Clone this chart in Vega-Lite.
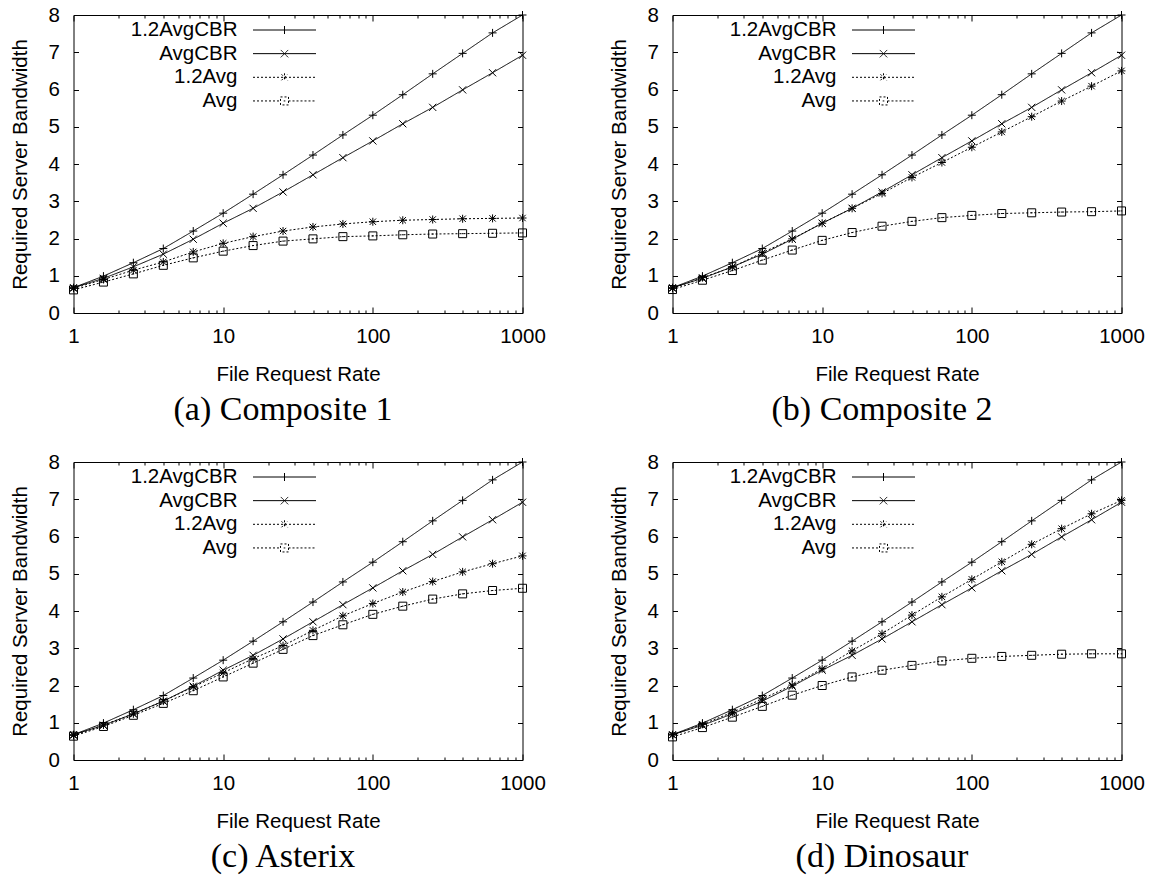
{
  "$schema": "https://vega.github.io/schema/vega-lite/v6.json",
  "padding": {"left": 9.5, "top": 4, "right": 5, "bottom": 2},
  "bounds": "flush",
  "columns": 2,
  "spacing": {"row": 149, "column": 150},
  "background": "white",
  "resolve": {"scale": {"strokeDash": "independent", "shape": "independent"}, "legend": {"strokeDash": "independent", "shape": "independent"}},
  "config": {
    "font": "Liberation Sans",
    "view": {"stroke": "black", "strokeWidth": 1},
    "axis": {
      "domain": false, "grid": false, "labelFont": "Liberation Sans", "labelFontSize": 20.5,
      "labelColor": "black", "titleFont": "Liberation Sans", "titleFontSize": 20.5,
      "titleFontWeight": "normal", "titleColor": "black", "tickColor": "black", "tickWidth": 1,
      "labelFlush": false, "labelOverlap": false
    },
    "legend": {"padding": 0}
  },
  "datasets": {
    "bw": [
      {"p":"a","s":"1.2AvgCBR","x":1,"y":0.68},{"p":"a","s":"1.2AvgCBR","x":1.585,"y":0.99},{"p":"a","s":"1.2AvgCBR","x":2.512,"y":1.35},{"p":"a","s":"1.2AvgCBR","x":3.981,"y":1.73},{"p":"a","s":"1.2AvgCBR","x":6.31,"y":2.2},{"p":"a","s":"1.2AvgCBR","x":10,"y":2.68},{"p":"a","s":"1.2AvgCBR","x":15.85,"y":3.19},{"p":"a","s":"1.2AvgCBR","x":25.12,"y":3.71},{"p":"a","s":"1.2AvgCBR","x":39.81,"y":4.24},{"p":"a","s":"1.2AvgCBR","x":63.1,"y":4.78},{"p":"a","s":"1.2AvgCBR","x":100,"y":5.31},{"p":"a","s":"1.2AvgCBR","x":158.5,"y":5.86},{"p":"a","s":"1.2AvgCBR","x":251.2,"y":6.42},{"p":"a","s":"1.2AvgCBR","x":398.1,"y":6.97},{"p":"a","s":"1.2AvgCBR","x":631,"y":7.52},{"p":"a","s":"1.2AvgCBR","x":1000,"y":8.0},
      {"p":"a","s":"AvgCBR","x":1,"y":0.68},{"p":"a","s":"AvgCBR","x":1.585,"y":0.93},{"p":"a","s":"AvgCBR","x":2.512,"y":1.24},{"p":"a","s":"AvgCBR","x":3.981,"y":1.58},{"p":"a","s":"AvgCBR","x":6.31,"y":1.98},{"p":"a","s":"AvgCBR","x":10,"y":2.41},{"p":"a","s":"AvgCBR","x":15.85,"y":2.81},{"p":"a","s":"AvgCBR","x":25.12,"y":3.25},{"p":"a","s":"AvgCBR","x":39.81,"y":3.71},{"p":"a","s":"AvgCBR","x":63.1,"y":4.17},{"p":"a","s":"AvgCBR","x":100,"y":4.62},{"p":"a","s":"AvgCBR","x":158.5,"y":5.08},{"p":"a","s":"AvgCBR","x":251.2,"y":5.52},{"p":"a","s":"AvgCBR","x":398.1,"y":5.99},{"p":"a","s":"AvgCBR","x":631,"y":6.45},{"p":"a","s":"AvgCBR","x":1000,"y":6.92},
      {"p":"a","s":"1.2Avg","x":1,"y":0.66},{"p":"a","s":"1.2Avg","x":1.585,"y":0.9},{"p":"a","s":"1.2Avg","x":2.512,"y":1.15},{"p":"a","s":"1.2Avg","x":3.981,"y":1.37},{"p":"a","s":"1.2Avg","x":6.31,"y":1.64},{"p":"a","s":"1.2Avg","x":10,"y":1.87},{"p":"a","s":"1.2Avg","x":15.85,"y":2.05},{"p":"a","s":"1.2Avg","x":25.12,"y":2.2},{"p":"a","s":"1.2Avg","x":39.81,"y":2.31},{"p":"a","s":"1.2Avg","x":63.1,"y":2.39},{"p":"a","s":"1.2Avg","x":100,"y":2.45},{"p":"a","s":"1.2Avg","x":158.5,"y":2.49},{"p":"a","s":"1.2Avg","x":251.2,"y":2.51},{"p":"a","s":"1.2Avg","x":398.1,"y":2.53},{"p":"a","s":"1.2Avg","x":631,"y":2.54},{"p":"a","s":"1.2Avg","x":1000,"y":2.55},
      {"p":"a","s":"Avg","x":1,"y":0.62},{"p":"a","s":"Avg","x":1.585,"y":0.83},{"p":"a","s":"Avg","x":2.512,"y":1.05},{"p":"a","s":"Avg","x":3.981,"y":1.28},{"p":"a","s":"Avg","x":6.31,"y":1.48},{"p":"a","s":"Avg","x":10,"y":1.66},{"p":"a","s":"Avg","x":15.85,"y":1.81},{"p":"a","s":"Avg","x":25.12,"y":1.93},{"p":"a","s":"Avg","x":39.81,"y":1.99},{"p":"a","s":"Avg","x":63.1,"y":2.05},{"p":"a","s":"Avg","x":100,"y":2.07},{"p":"a","s":"Avg","x":158.5,"y":2.1},{"p":"a","s":"Avg","x":251.2,"y":2.12},{"p":"a","s":"Avg","x":398.1,"y":2.13},{"p":"a","s":"Avg","x":631,"y":2.14},{"p":"a","s":"Avg","x":1000,"y":2.15},

      {"p":"b","s":"1.2AvgCBR","x":1,"y":0.68},{"p":"b","s":"1.2AvgCBR","x":1.585,"y":0.99},{"p":"b","s":"1.2AvgCBR","x":2.512,"y":1.35},{"p":"b","s":"1.2AvgCBR","x":3.981,"y":1.73},{"p":"b","s":"1.2AvgCBR","x":6.31,"y":2.2},{"p":"b","s":"1.2AvgCBR","x":10,"y":2.68},{"p":"b","s":"1.2AvgCBR","x":15.85,"y":3.19},{"p":"b","s":"1.2AvgCBR","x":25.12,"y":3.71},{"p":"b","s":"1.2AvgCBR","x":39.81,"y":4.24},{"p":"b","s":"1.2AvgCBR","x":63.1,"y":4.78},{"p":"b","s":"1.2AvgCBR","x":100,"y":5.31},{"p":"b","s":"1.2AvgCBR","x":158.5,"y":5.86},{"p":"b","s":"1.2AvgCBR","x":251.2,"y":6.42},{"p":"b","s":"1.2AvgCBR","x":398.1,"y":6.97},{"p":"b","s":"1.2AvgCBR","x":631,"y":7.52},{"p":"b","s":"1.2AvgCBR","x":1000,"y":8.0},
      {"p":"b","s":"AvgCBR","x":1,"y":0.68},{"p":"b","s":"AvgCBR","x":1.585,"y":0.93},{"p":"b","s":"AvgCBR","x":2.512,"y":1.24},{"p":"b","s":"AvgCBR","x":3.981,"y":1.58},{"p":"b","s":"AvgCBR","x":6.31,"y":1.98},{"p":"b","s":"AvgCBR","x":10,"y":2.41},{"p":"b","s":"AvgCBR","x":15.85,"y":2.81},{"p":"b","s":"AvgCBR","x":25.12,"y":3.25},{"p":"b","s":"AvgCBR","x":39.81,"y":3.71},{"p":"b","s":"AvgCBR","x":63.1,"y":4.17},{"p":"b","s":"AvgCBR","x":100,"y":4.62},{"p":"b","s":"AvgCBR","x":158.5,"y":5.08},{"p":"b","s":"AvgCBR","x":251.2,"y":5.52},{"p":"b","s":"AvgCBR","x":398.1,"y":5.99},{"p":"b","s":"AvgCBR","x":631,"y":6.45},{"p":"b","s":"AvgCBR","x":1000,"y":6.92},
      {"p":"b","s":"1.2Avg","x":1,"y":0.66},{"p":"b","s":"1.2Avg","x":1.585,"y":0.95},{"p":"b","s":"1.2Avg","x":2.512,"y":1.23},{"p":"b","s":"1.2Avg","x":3.981,"y":1.62},{"p":"b","s":"1.2Avg","x":6.31,"y":1.99},{"p":"b","s":"1.2Avg","x":10,"y":2.41},{"p":"b","s":"1.2Avg","x":15.85,"y":2.81},{"p":"b","s":"1.2Avg","x":25.12,"y":3.21},{"p":"b","s":"1.2Avg","x":39.81,"y":3.64},{"p":"b","s":"1.2Avg","x":63.1,"y":4.04},{"p":"b","s":"1.2Avg","x":100,"y":4.45},{"p":"b","s":"1.2Avg","x":158.5,"y":4.86},{"p":"b","s":"1.2Avg","x":251.2,"y":5.27},{"p":"b","s":"1.2Avg","x":398.1,"y":5.69},{"p":"b","s":"1.2Avg","x":631,"y":6.09},{"p":"b","s":"1.2Avg","x":1000,"y":6.5},
      {"p":"b","s":"Avg","x":1,"y":0.63},{"p":"b","s":"Avg","x":1.585,"y":0.88},{"p":"b","s":"Avg","x":2.512,"y":1.14},{"p":"b","s":"Avg","x":3.981,"y":1.42},{"p":"b","s":"Avg","x":6.31,"y":1.69},{"p":"b","s":"Avg","x":10,"y":1.95},{"p":"b","s":"Avg","x":15.85,"y":2.16},{"p":"b","s":"Avg","x":25.12,"y":2.33},{"p":"b","s":"Avg","x":39.81,"y":2.46},{"p":"b","s":"Avg","x":63.1,"y":2.56},{"p":"b","s":"Avg","x":100,"y":2.62},{"p":"b","s":"Avg","x":158.5,"y":2.67},{"p":"b","s":"Avg","x":251.2,"y":2.69},{"p":"b","s":"Avg","x":398.1,"y":2.71},{"p":"b","s":"Avg","x":631,"y":2.72},{"p":"b","s":"Avg","x":1000,"y":2.74},

      {"p":"c","s":"1.2AvgCBR","x":1,"y":0.68},{"p":"c","s":"1.2AvgCBR","x":1.585,"y":0.99},{"p":"c","s":"1.2AvgCBR","x":2.512,"y":1.35},{"p":"c","s":"1.2AvgCBR","x":3.981,"y":1.73},{"p":"c","s":"1.2AvgCBR","x":6.31,"y":2.2},{"p":"c","s":"1.2AvgCBR","x":10,"y":2.68},{"p":"c","s":"1.2AvgCBR","x":15.85,"y":3.19},{"p":"c","s":"1.2AvgCBR","x":25.12,"y":3.71},{"p":"c","s":"1.2AvgCBR","x":39.81,"y":4.24},{"p":"c","s":"1.2AvgCBR","x":63.1,"y":4.78},{"p":"c","s":"1.2AvgCBR","x":100,"y":5.31},{"p":"c","s":"1.2AvgCBR","x":158.5,"y":5.86},{"p":"c","s":"1.2AvgCBR","x":251.2,"y":6.42},{"p":"c","s":"1.2AvgCBR","x":398.1,"y":6.97},{"p":"c","s":"1.2AvgCBR","x":631,"y":7.52},{"p":"c","s":"1.2AvgCBR","x":1000,"y":8.0},
      {"p":"c","s":"AvgCBR","x":1,"y":0.68},{"p":"c","s":"AvgCBR","x":1.585,"y":0.93},{"p":"c","s":"AvgCBR","x":2.512,"y":1.24},{"p":"c","s":"AvgCBR","x":3.981,"y":1.58},{"p":"c","s":"AvgCBR","x":6.31,"y":1.98},{"p":"c","s":"AvgCBR","x":10,"y":2.41},{"p":"c","s":"AvgCBR","x":15.85,"y":2.81},{"p":"c","s":"AvgCBR","x":25.12,"y":3.25},{"p":"c","s":"AvgCBR","x":39.81,"y":3.71},{"p":"c","s":"AvgCBR","x":63.1,"y":4.17},{"p":"c","s":"AvgCBR","x":100,"y":4.62},{"p":"c","s":"AvgCBR","x":158.5,"y":5.08},{"p":"c","s":"AvgCBR","x":251.2,"y":5.52},{"p":"c","s":"AvgCBR","x":398.1,"y":5.99},{"p":"c","s":"AvgCBR","x":631,"y":6.45},{"p":"c","s":"AvgCBR","x":1000,"y":6.92},
      {"p":"c","s":"1.2Avg","x":1,"y":0.66},{"p":"c","s":"1.2Avg","x":1.585,"y":0.94},{"p":"c","s":"1.2Avg","x":2.512,"y":1.24},{"p":"c","s":"1.2Avg","x":3.981,"y":1.58},{"p":"c","s":"1.2Avg","x":6.31,"y":1.96},{"p":"c","s":"1.2Avg","x":10,"y":2.34},{"p":"c","s":"1.2Avg","x":15.85,"y":2.72},{"p":"c","s":"1.2Avg","x":25.12,"y":3.07},{"p":"c","s":"1.2Avg","x":39.81,"y":3.48},{"p":"c","s":"1.2Avg","x":63.1,"y":3.87},{"p":"c","s":"1.2Avg","x":100,"y":4.2},{"p":"c","s":"1.2Avg","x":158.5,"y":4.51},{"p":"c","s":"1.2Avg","x":251.2,"y":4.79},{"p":"c","s":"1.2Avg","x":398.1,"y":5.05},{"p":"c","s":"1.2Avg","x":631,"y":5.27},{"p":"c","s":"1.2Avg","x":1000,"y":5.48},
      {"p":"c","s":"Avg","x":1,"y":0.64},{"p":"c","s":"Avg","x":1.585,"y":0.9},{"p":"c","s":"Avg","x":2.512,"y":1.2},{"p":"c","s":"Avg","x":3.981,"y":1.52},{"p":"c","s":"Avg","x":6.31,"y":1.86},{"p":"c","s":"Avg","x":10,"y":2.23},{"p":"c","s":"Avg","x":15.85,"y":2.6},{"p":"c","s":"Avg","x":25.12,"y":2.97},{"p":"c","s":"Avg","x":39.81,"y":3.34},{"p":"c","s":"Avg","x":63.1,"y":3.63},{"p":"c","s":"Avg","x":100,"y":3.91},{"p":"c","s":"Avg","x":158.5,"y":4.13},{"p":"c","s":"Avg","x":251.2,"y":4.32},{"p":"c","s":"Avg","x":398.1,"y":4.46},{"p":"c","s":"Avg","x":631,"y":4.55},{"p":"c","s":"Avg","x":1000,"y":4.61},

      {"p":"d","s":"1.2AvgCBR","x":1,"y":0.68},{"p":"d","s":"1.2AvgCBR","x":1.585,"y":0.99},{"p":"d","s":"1.2AvgCBR","x":2.512,"y":1.35},{"p":"d","s":"1.2AvgCBR","x":3.981,"y":1.73},{"p":"d","s":"1.2AvgCBR","x":6.31,"y":2.2},{"p":"d","s":"1.2AvgCBR","x":10,"y":2.68},{"p":"d","s":"1.2AvgCBR","x":15.85,"y":3.19},{"p":"d","s":"1.2AvgCBR","x":25.12,"y":3.71},{"p":"d","s":"1.2AvgCBR","x":39.81,"y":4.24},{"p":"d","s":"1.2AvgCBR","x":63.1,"y":4.78},{"p":"d","s":"1.2AvgCBR","x":100,"y":5.31},{"p":"d","s":"1.2AvgCBR","x":158.5,"y":5.86},{"p":"d","s":"1.2AvgCBR","x":251.2,"y":6.42},{"p":"d","s":"1.2AvgCBR","x":398.1,"y":6.97},{"p":"d","s":"1.2AvgCBR","x":631,"y":7.52},{"p":"d","s":"1.2AvgCBR","x":1000,"y":8.0},
      {"p":"d","s":"AvgCBR","x":1,"y":0.68},{"p":"d","s":"AvgCBR","x":1.585,"y":0.93},{"p":"d","s":"AvgCBR","x":2.512,"y":1.24},{"p":"d","s":"AvgCBR","x":3.981,"y":1.58},{"p":"d","s":"AvgCBR","x":6.31,"y":1.98},{"p":"d","s":"AvgCBR","x":10,"y":2.41},{"p":"d","s":"AvgCBR","x":15.85,"y":2.81},{"p":"d","s":"AvgCBR","x":25.12,"y":3.25},{"p":"d","s":"AvgCBR","x":39.81,"y":3.71},{"p":"d","s":"AvgCBR","x":63.1,"y":4.17},{"p":"d","s":"AvgCBR","x":100,"y":4.62},{"p":"d","s":"AvgCBR","x":158.5,"y":5.08},{"p":"d","s":"AvgCBR","x":251.2,"y":5.52},{"p":"d","s":"AvgCBR","x":398.1,"y":5.99},{"p":"d","s":"AvgCBR","x":631,"y":6.45},{"p":"d","s":"AvgCBR","x":1000,"y":6.92},
      {"p":"d","s":"1.2Avg","x":1,"y":0.67},{"p":"d","s":"1.2Avg","x":1.585,"y":0.96},{"p":"d","s":"1.2Avg","x":2.512,"y":1.28},{"p":"d","s":"1.2Avg","x":3.981,"y":1.64},{"p":"d","s":"1.2Avg","x":6.31,"y":2.01},{"p":"d","s":"1.2Avg","x":10,"y":2.45},{"p":"d","s":"1.2Avg","x":15.85,"y":2.93},{"p":"d","s":"1.2Avg","x":25.12,"y":3.39},{"p":"d","s":"1.2Avg","x":39.81,"y":3.89},{"p":"d","s":"1.2Avg","x":63.1,"y":4.38},{"p":"d","s":"1.2Avg","x":100,"y":4.85},{"p":"d","s":"1.2Avg","x":158.5,"y":5.32},{"p":"d","s":"1.2Avg","x":251.2,"y":5.79},{"p":"d","s":"1.2Avg","x":398.1,"y":6.21},{"p":"d","s":"1.2Avg","x":631,"y":6.61},{"p":"d","s":"1.2Avg","x":1000,"y":6.97},
      {"p":"d","s":"Avg","x":1,"y":0.62},{"p":"d","s":"Avg","x":1.585,"y":0.87},{"p":"d","s":"Avg","x":2.512,"y":1.15},{"p":"d","s":"Avg","x":3.981,"y":1.44},{"p":"d","s":"Avg","x":6.31,"y":1.74},{"p":"d","s":"Avg","x":10,"y":2.0},{"p":"d","s":"Avg","x":15.85,"y":2.23},{"p":"d","s":"Avg","x":25.12,"y":2.41},{"p":"d","s":"Avg","x":39.81,"y":2.54},{"p":"d","s":"Avg","x":63.1,"y":2.66},{"p":"d","s":"Avg","x":100,"y":2.73},{"p":"d","s":"Avg","x":158.5,"y":2.78},{"p":"d","s":"Avg","x":251.2,"y":2.81},{"p":"d","s":"Avg","x":398.1,"y":2.84},{"p":"d","s":"Avg","x":631,"y":2.85},{"p":"d","s":"Avg","x":1000,"y":2.85}
    ]
  },
  "concat": [
    {
      "width": 449, "height": 298,
      "title": {"text": "(a) Composite 1", "orient": "bottom", "anchor": "middle", "font": "Liberation Serif", "fontSize": 34, "fontWeight": "normal", "color": "black", "offset": 8.5, "dx": -15},
      "data": {"name": "bw"},
      "transform": [{"filter": "datum.p == 'a'"}],
      "layer": [
        {
          "mark": {"type": "line", "strokeWidth": 1, "color": "black"},
          "encoding": {
            "x": {"field": "x", "type": "quantitative", "scale": {"type": "log", "domain": [1, 1000], "nice": false},
              "axis": {"orient": "bottom", "values": [1,2,3,4,5,6,7,8,9,10,20,30,40,50,60,70,80,90,100,200,300,400,500,600,700,800,900,1000], "labelExpr": "indexof([1,10,100,1000], datum.value) >= 0 ? format(datum.value, 'd') : ''", "tickSize": {"condition": {"test": "indexof([1,10,100,1000], datum.value) >= 0", "value": -6}, "value": -3}, "labelPadding": 19.5, "title": "File Request Rate", "titlePadding": 14}},
            "y": {"field": "y", "type": "quantitative", "scale": {"domain": [0, 8], "nice": false},
              "axis": {"orient": "left", "values": [0,1,2,3,4,5,6,7,8], "format": "d", "tickSize": -5, "labelPadding": 19, "title": "Required Server Bandwidth", "titlePadding": 18}},
            "strokeDash": {"field": "s", "type": "nominal", "scale": {"domain": ["1.2AvgCBR", "AvgCBR", "1.2Avg", "Avg"], "range": [[1, 0], [1, 0], [2, 2], [2, 2]]},
              "legend": {"orient": "none", "legendX": 200.5, "legendY": 4.5, "title": null, "symbolSize": 400, "symbolStrokeWidth": 1, "symbolStrokeColor": "black", "labelAlign": "right", "labelOffset": -57.5, "labelFont": "Liberation Sans", "labelFontSize": 20.5, "labelColor": "black", "rowPadding": 2.65, "padding": 0,
                "encode": {"symbols": {"update": {"shape": {"signal": "datum.value === '1.2AvgCBR' ? 'M-3.15,0H3.15M0,-0.4V0.4' : datum.value === 'AvgCBR' ? 'M-3.15,0H3.15M-0.37,-0.37L0.37,0.37M-0.37,0.37L0.37,-0.37' : datum.value === '1.2Avg' ? 'M-3.15,0H3.15M0,-0.4V0.4M-0.3,-0.3L0.3,0.3M-0.3,0.3L0.3,-0.3' : 'M-3.15,0H-0.4M0.4,0H3.15M-0.4,-0.4H0.4V0.4H-0.4ZM-0.08,0H0.08'"}, "stroke": {"value": "black"}, "fill": {"value": "transparent"}, "strokeWidth": {"value": 1}, "size": {"value": 400}}}}}}
          }
        },
        {
          "mark": {"type": "point", "filled": false, "color": "black", "strokeWidth": 1, "size": 64, "opacity": 1},
          "encoding": {
            "x": {"field": "x", "type": "quantitative", "scale": {"type": "log", "domain": [1, 1000], "nice": false},
              "axis": {"orient": "top", "values": [1,2,3,4,5,6,7,8,9,10,20,30,40,50,60,70,80,90,100,200,300,400,500,600,700,800,900,1000], "labels": false, "title": null, "tickSize": {"condition": {"test": "indexof([1,10,100,1000], datum.value) >= 0", "value": -6}, "value": -3}}},
            "y": {"field": "y", "type": "quantitative", "scale": {"domain": [0, 8], "nice": false},
              "axis": {"orient": "right", "values": [0,1,2,3,4,5,6,7,8], "labels": false, "title": null, "tickSize": -5}},
            "shape": {"field": "s", "type": "nominal", "scale": {"domain": ["Avg", "1.2Avg", "AvgCBR", "1.2AvgCBR"], "range": ["M-1,-1H1V1H-1ZM-0.2,0H0.2", "M-1,0H1M0,-1V1M-0.8,-0.8L0.8,0.8M-0.8,0.8L0.8,-0.8", "M-0.9,-0.9L0.9,0.9M-0.9,0.9L0.9,-0.9", "M-1,0H1M0,-1V1"]}, "legend": null}
          }
        }
      ],
      "resolve": {"scale": {"x": "independent", "y": "independent"}}
    },
    {
      "width": 449, "height": 298,
      "title": {"text": "(b) Composite 2", "orient": "bottom", "anchor": "middle", "font": "Liberation Serif", "fontSize": 34, "fontWeight": "normal", "color": "black", "offset": 8.5, "dx": -15},
      "data": {"name": "bw"},
      "transform": [{"filter": "datum.p == 'b'"}],
      "layer": [
        {
          "mark": {"type": "line", "strokeWidth": 1, "color": "black"},
          "encoding": {
            "x": {"field": "x", "type": "quantitative", "scale": {"type": "log", "domain": [1, 1000], "nice": false},
              "axis": {"orient": "bottom", "values": [1,2,3,4,5,6,7,8,9,10,20,30,40,50,60,70,80,90,100,200,300,400,500,600,700,800,900,1000], "labelExpr": "indexof([1,10,100,1000], datum.value) >= 0 ? format(datum.value, 'd') : ''", "tickSize": {"condition": {"test": "indexof([1,10,100,1000], datum.value) >= 0", "value": -6}, "value": -3}, "labelPadding": 19.5, "title": "File Request Rate", "titlePadding": 14}},
            "y": {"field": "y", "type": "quantitative", "scale": {"domain": [0, 8], "nice": false},
              "axis": {"orient": "left", "values": [0,1,2,3,4,5,6,7,8], "format": "d", "tickSize": -5, "labelPadding": 19, "title": "Required Server Bandwidth", "titlePadding": 18}},
            "strokeDash": {"field": "s", "type": "nominal", "scale": {"domain": ["1.2AvgCBR", "AvgCBR", "1.2Avg", "Avg"], "range": [[1, 0], [1, 0], [2, 2], [2, 2]]},
              "legend": {"orient": "none", "legendX": 200.5, "legendY": 4.5, "title": null, "symbolSize": 400, "symbolStrokeWidth": 1, "symbolStrokeColor": "black", "labelAlign": "right", "labelOffset": -57.5, "labelFont": "Liberation Sans", "labelFontSize": 20.5, "labelColor": "black", "rowPadding": 2.65, "padding": 0,
                "encode": {"symbols": {"update": {"shape": {"signal": "datum.value === '1.2AvgCBR' ? 'M-3.15,0H3.15M0,-0.4V0.4' : datum.value === 'AvgCBR' ? 'M-3.15,0H3.15M-0.37,-0.37L0.37,0.37M-0.37,0.37L0.37,-0.37' : datum.value === '1.2Avg' ? 'M-3.15,0H3.15M0,-0.4V0.4M-0.3,-0.3L0.3,0.3M-0.3,0.3L0.3,-0.3' : 'M-3.15,0H-0.4M0.4,0H3.15M-0.4,-0.4H0.4V0.4H-0.4ZM-0.08,0H0.08'"}, "stroke": {"value": "black"}, "fill": {"value": "transparent"}, "strokeWidth": {"value": 1}, "size": {"value": 400}}}}}}
          }
        },
        {
          "mark": {"type": "point", "filled": false, "color": "black", "strokeWidth": 1, "size": 64, "opacity": 1},
          "encoding": {
            "x": {"field": "x", "type": "quantitative", "scale": {"type": "log", "domain": [1, 1000], "nice": false},
              "axis": {"orient": "top", "values": [1,2,3,4,5,6,7,8,9,10,20,30,40,50,60,70,80,90,100,200,300,400,500,600,700,800,900,1000], "labels": false, "title": null, "tickSize": {"condition": {"test": "indexof([1,10,100,1000], datum.value) >= 0", "value": -6}, "value": -3}}},
            "y": {"field": "y", "type": "quantitative", "scale": {"domain": [0, 8], "nice": false},
              "axis": {"orient": "right", "values": [0,1,2,3,4,5,6,7,8], "labels": false, "title": null, "tickSize": -5}},
            "shape": {"field": "s", "type": "nominal", "scale": {"domain": ["Avg", "1.2Avg", "AvgCBR", "1.2AvgCBR"], "range": ["M-1,-1H1V1H-1ZM-0.2,0H0.2", "M-1,0H1M0,-1V1M-0.8,-0.8L0.8,0.8M-0.8,0.8L0.8,-0.8", "M-0.9,-0.9L0.9,0.9M-0.9,0.9L0.9,-0.9", "M-1,0H1M0,-1V1"]}, "legend": null}
          }
        }
      ],
      "resolve": {"scale": {"x": "independent", "y": "independent"}}
    },
    {
      "width": 449, "height": 298,
      "title": {"text": "(c) Asterix", "orient": "bottom", "anchor": "middle", "font": "Liberation Serif", "fontSize": 34, "fontWeight": "normal", "color": "black", "offset": 8.5, "dx": -15},
      "data": {"name": "bw"},
      "transform": [{"filter": "datum.p == 'c'"}],
      "layer": [
        {
          "mark": {"type": "line", "strokeWidth": 1, "color": "black"},
          "encoding": {
            "x": {"field": "x", "type": "quantitative", "scale": {"type": "log", "domain": [1, 1000], "nice": false},
              "axis": {"orient": "bottom", "values": [1,2,3,4,5,6,7,8,9,10,20,30,40,50,60,70,80,90,100,200,300,400,500,600,700,800,900,1000], "labelExpr": "indexof([1,10,100,1000], datum.value) >= 0 ? format(datum.value, 'd') : ''", "tickSize": {"condition": {"test": "indexof([1,10,100,1000], datum.value) >= 0", "value": -6}, "value": -3}, "labelPadding": 19.5, "title": "File Request Rate", "titlePadding": 14}},
            "y": {"field": "y", "type": "quantitative", "scale": {"domain": [0, 8], "nice": false},
              "axis": {"orient": "left", "values": [0,1,2,3,4,5,6,7,8], "format": "d", "tickSize": -5, "labelPadding": 19, "title": "Required Server Bandwidth", "titlePadding": 18}},
            "strokeDash": {"field": "s", "type": "nominal", "scale": {"domain": ["1.2AvgCBR", "AvgCBR", "1.2Avg", "Avg"], "range": [[1, 0], [1, 0], [2, 2], [2, 2]]},
              "legend": {"orient": "none", "legendX": 200.5, "legendY": 4.5, "title": null, "symbolSize": 400, "symbolStrokeWidth": 1, "symbolStrokeColor": "black", "labelAlign": "right", "labelOffset": -57.5, "labelFont": "Liberation Sans", "labelFontSize": 20.5, "labelColor": "black", "rowPadding": 2.65, "padding": 0,
                "encode": {"symbols": {"update": {"shape": {"signal": "datum.value === '1.2AvgCBR' ? 'M-3.15,0H3.15M0,-0.4V0.4' : datum.value === 'AvgCBR' ? 'M-3.15,0H3.15M-0.37,-0.37L0.37,0.37M-0.37,0.37L0.37,-0.37' : datum.value === '1.2Avg' ? 'M-3.15,0H3.15M0,-0.4V0.4M-0.3,-0.3L0.3,0.3M-0.3,0.3L0.3,-0.3' : 'M-3.15,0H-0.4M0.4,0H3.15M-0.4,-0.4H0.4V0.4H-0.4ZM-0.08,0H0.08'"}, "stroke": {"value": "black"}, "fill": {"value": "transparent"}, "strokeWidth": {"value": 1}, "size": {"value": 400}}}}}}
          }
        },
        {
          "mark": {"type": "point", "filled": false, "color": "black", "strokeWidth": 1, "size": 64, "opacity": 1},
          "encoding": {
            "x": {"field": "x", "type": "quantitative", "scale": {"type": "log", "domain": [1, 1000], "nice": false},
              "axis": {"orient": "top", "values": [1,2,3,4,5,6,7,8,9,10,20,30,40,50,60,70,80,90,100,200,300,400,500,600,700,800,900,1000], "labels": false, "title": null, "tickSize": {"condition": {"test": "indexof([1,10,100,1000], datum.value) >= 0", "value": -6}, "value": -3}}},
            "y": {"field": "y", "type": "quantitative", "scale": {"domain": [0, 8], "nice": false},
              "axis": {"orient": "right", "values": [0,1,2,3,4,5,6,7,8], "labels": false, "title": null, "tickSize": -5}},
            "shape": {"field": "s", "type": "nominal", "scale": {"domain": ["Avg", "1.2Avg", "AvgCBR", "1.2AvgCBR"], "range": ["M-1,-1H1V1H-1ZM-0.2,0H0.2", "M-1,0H1M0,-1V1M-0.8,-0.8L0.8,0.8M-0.8,0.8L0.8,-0.8", "M-0.9,-0.9L0.9,0.9M-0.9,0.9L0.9,-0.9", "M-1,0H1M0,-1V1"]}, "legend": null}
          }
        }
      ],
      "resolve": {"scale": {"x": "independent", "y": "independent"}}
    },
    {
      "width": 449, "height": 298,
      "title": {"text": "(d) Dinosaur", "orient": "bottom", "anchor": "middle", "font": "Liberation Serif", "fontSize": 34, "fontWeight": "normal", "color": "black", "offset": 8.5, "dx": -15},
      "data": {"name": "bw"},
      "transform": [{"filter": "datum.p == 'd'"}],
      "layer": [
        {
          "mark": {"type": "line", "strokeWidth": 1, "color": "black"},
          "encoding": {
            "x": {"field": "x", "type": "quantitative", "scale": {"type": "log", "domain": [1, 1000], "nice": false},
              "axis": {"orient": "bottom", "values": [1,2,3,4,5,6,7,8,9,10,20,30,40,50,60,70,80,90,100,200,300,400,500,600,700,800,900,1000], "labelExpr": "indexof([1,10,100,1000], datum.value) >= 0 ? format(datum.value, 'd') : ''", "tickSize": {"condition": {"test": "indexof([1,10,100,1000], datum.value) >= 0", "value": -6}, "value": -3}, "labelPadding": 19.5, "title": "File Request Rate", "titlePadding": 14}},
            "y": {"field": "y", "type": "quantitative", "scale": {"domain": [0, 8], "nice": false},
              "axis": {"orient": "left", "values": [0,1,2,3,4,5,6,7,8], "format": "d", "tickSize": -5, "labelPadding": 19, "title": "Required Server Bandwidth", "titlePadding": 18}},
            "strokeDash": {"field": "s", "type": "nominal", "scale": {"domain": ["1.2AvgCBR", "AvgCBR", "1.2Avg", "Avg"], "range": [[1, 0], [1, 0], [2, 2], [2, 2]]},
              "legend": {"orient": "none", "legendX": 200.5, "legendY": 4.5, "title": null, "symbolSize": 400, "symbolStrokeWidth": 1, "symbolStrokeColor": "black", "labelAlign": "right", "labelOffset": -57.5, "labelFont": "Liberation Sans", "labelFontSize": 20.5, "labelColor": "black", "rowPadding": 2.65, "padding": 0,
                "encode": {"symbols": {"update": {"shape": {"signal": "datum.value === '1.2AvgCBR' ? 'M-3.15,0H3.15M0,-0.4V0.4' : datum.value === 'AvgCBR' ? 'M-3.15,0H3.15M-0.37,-0.37L0.37,0.37M-0.37,0.37L0.37,-0.37' : datum.value === '1.2Avg' ? 'M-3.15,0H3.15M0,-0.4V0.4M-0.3,-0.3L0.3,0.3M-0.3,0.3L0.3,-0.3' : 'M-3.15,0H-0.4M0.4,0H3.15M-0.4,-0.4H0.4V0.4H-0.4ZM-0.08,0H0.08'"}, "stroke": {"value": "black"}, "fill": {"value": "transparent"}, "strokeWidth": {"value": 1}, "size": {"value": 400}}}}}}
          }
        },
        {
          "mark": {"type": "point", "filled": false, "color": "black", "strokeWidth": 1, "size": 64, "opacity": 1},
          "encoding": {
            "x": {"field": "x", "type": "quantitative", "scale": {"type": "log", "domain": [1, 1000], "nice": false},
              "axis": {"orient": "top", "values": [1,2,3,4,5,6,7,8,9,10,20,30,40,50,60,70,80,90,100,200,300,400,500,600,700,800,900,1000], "labels": false, "title": null, "tickSize": {"condition": {"test": "indexof([1,10,100,1000], datum.value) >= 0", "value": -6}, "value": -3}}},
            "y": {"field": "y", "type": "quantitative", "scale": {"domain": [0, 8], "nice": false},
              "axis": {"orient": "right", "values": [0,1,2,3,4,5,6,7,8], "labels": false, "title": null, "tickSize": -5}},
            "shape": {"field": "s", "type": "nominal", "scale": {"domain": ["Avg", "1.2Avg", "AvgCBR", "1.2AvgCBR"], "range": ["M-1,-1H1V1H-1ZM-0.2,0H0.2", "M-1,0H1M0,-1V1M-0.8,-0.8L0.8,0.8M-0.8,0.8L0.8,-0.8", "M-0.9,-0.9L0.9,0.9M-0.9,0.9L0.9,-0.9", "M-1,0H1M0,-1V1"]}, "legend": null}
          }
        }
      ],
      "resolve": {"scale": {"x": "independent", "y": "independent"}}
    }
  ]
}
